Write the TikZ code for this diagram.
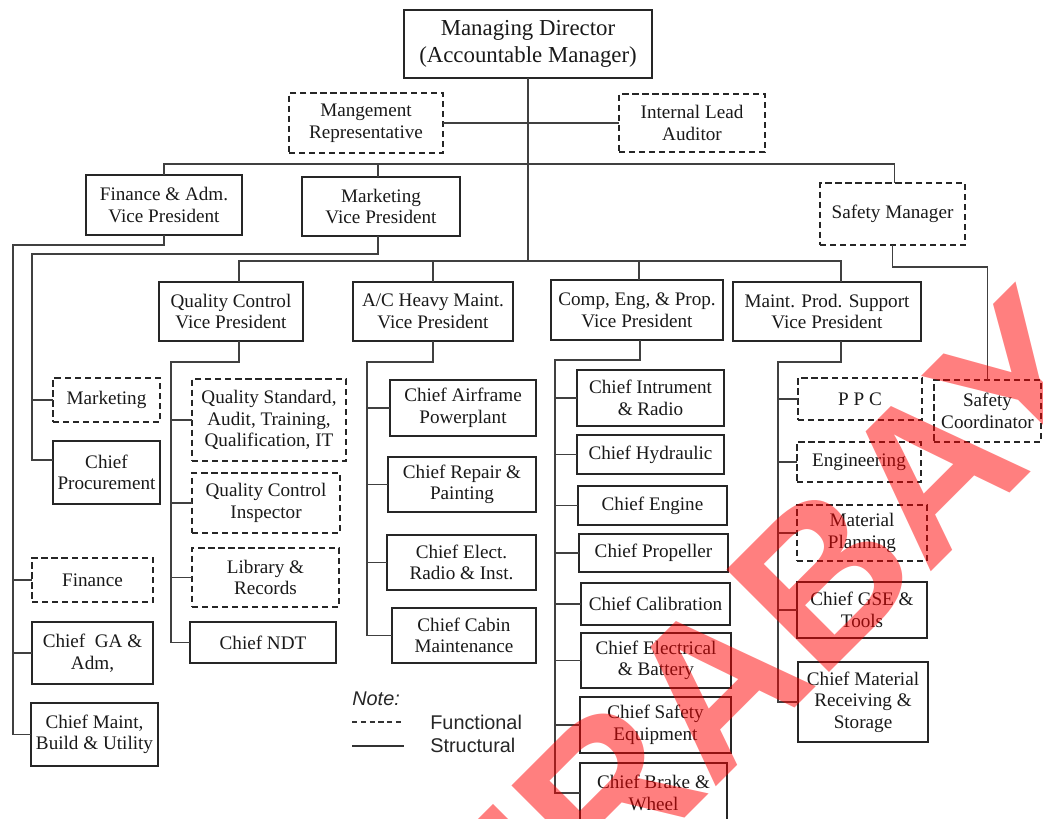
\documentclass[tikz,border=0pt]{standalone}
\usepackage{fontspec}
\setmainfont{Liberation Serif}
\newfontfamily\sansf{Liberation Sans}
\newcommand\pxu{0.02cm}
\newcommand\obox[7]{\node[#1, minimum width={(#5-#3)*0.02cm}, minimum height={(#6-#4)*0.02cm}] (#2) at ({(#3+#5)/2},{(#4+#6)/2}) {#7};}
\tikzset{
  box/.style={draw=black!85, line width=0.9pt, inner sep=1pt, outer sep=0pt, align=center,
    font=\fontsize{10.9}{12.3}\selectfont, text=black!90},
  sbox/.style={box},
  dbox/.style={box, dash pattern=on 3.5pt off 2.2pt},
  bigbox/.style={box, font=\fontsize{13}{15.4}\selectfont},
  conn/.style={draw=black!75, line width=0.9pt},
  legtext/.style={anchor=west, inner sep=0pt, text=black!85, font=\sansf\fontsize{11.3}{13}\selectfont},
}
\begin{document}
\begin{tikzpicture}[x=0.02cm, y=-0.02cm]
\useasboundingbox (0,0) rectangle (1043,818);
\begin{scope}
\clip (0,0) rectangle (1043,818);
% boxes
\obox{bigbox}{md}{404}{10}{652}{78}{Managing Director\\(Accountable Manager)}
\obox{dbox}{mr}{289}{93}{443}{153}{Mangement\\Representative}
\obox{dbox}{ila}{619}{94}{765}{152}{Internal Lead\\Auditor}
\obox{sbox}{fin}{86}{175}{242}{235}{Finance \& Adm.\\Vice President}
\obox{sbox}{mkt}{302}{177}{460}{236}{Marketing\\Vice President}
\obox{dbox}{sm}{820}{183}{965}{245}{Safety Manager}
\obox{sbox}{qc}{159}{282}{303}{341}{Quality Control\\Vice President}
\obox{sbox}{ac}{353}{282}{513}{341}{A/C Heavy Maint.\\Vice President}
\obox{sbox}{cep}{551}{280}{723}{340}{Comp, Eng, \& Prop.\\Vice President}
\obox{sbox}{mps}{733}{282}{921}{341}{Maint. Prod. Support\\Vice President}
\obox{dbox}{mktg}{53}{378}{160}{422}{Marketing}
\obox{sbox}{cp}{53}{441}{160}{504}{Chief\\Procurement}
\obox{dbox}{finx}{32}{558}{153}{602}{Finance}
\obox{sbox}{cga}{32}{622}{153}{684}{Chief~ GA \&\\Adm,}
\obox{sbox}{cmb}{31}{703}{158}{766}{Chief Maint,\\Build \& Utility}
\obox{dbox}{qs}{192}{379}{346}{461}{Quality Standard,\\Audit, Training,\\Qualification, IT}
\obox{dbox}{qci}{192}{473}{340}{533}{Quality Control\\Inspector}
\obox{dbox}{lib}{192}{548}{339}{607}{Library \&\\Records}
\obox{sbox}{ndt}{190}{622}{336}{663}{Chief NDT}
\obox{sbox}{caf}{390}{380}{536}{436}{Chief Airframe\\Powerplant}
\obox{sbox}{crp}{388}{457}{536}{512}{Chief Repair \&\\Painting}
\obox{sbox}{cel}{387}{535}{536}{590}{Chief Elect.\\Radio \& Inst.}
\obox{sbox}{ccm}{392}{608}{536}{663}{Chief Cabin\\Maintenance}
\obox{sbox}{cir}{577}{370}{724}{426}{Chief Intrument\\\& Radio}
\obox{sbox}{chy}{577}{435}{724}{474}{Chief Hydraulic}
\obox{sbox}{cen}{578}{486}{727}{525}{Chief Engine}
\obox{sbox}{cpr}{579}{534}{728}{572}{Chief Propeller}
\obox{sbox}{cca}{581}{583}{730}{625}{Chief Calibration}
\obox{sbox}{ceb}{581}{633}{731}{688}{Chief Electrical\\\& Battery}
\obox{sbox}{cse}{580}{697}{731}{753}{Chief Safety\\Equipment}
\obox{sbox}{cbw}{580}{763}{727}{823}{Chief Brake \&\\Wheel}
\obox{dbox}{ppc}{798}{378}{922}{420}{P P C}
\obox{dbox}{sc}{934}{380}{1041}{442}{Safety\\Coordinator}
\obox{dbox}{eng}{797}{442}{921}{482}{Engineering}
\obox{dbox}{mpl}{797}{505}{927}{561}{Material\\Planning}
\obox{sbox}{gse}{797}{582}{927}{638}{Chief GSE \&\\Tools}
\obox{sbox}{cmr}{798}{662}{928}{742}{Chief Material\\Receiving \&\\Storage}
% top connectors
\coordinate (j1) at (528,164);
\coordinate (j2) at (528,261);
\draw[conn] (md.south) -- (j2);
\draw[conn] (mr.east) -- (ila.west);
\coordinate (smT) at ([xshift=2*\pxu]sm.north);
\draw[conn] (fin.north) |- (j1) -| (smT);
\coordinate (mktT) at ([xshift=-3*\pxu]mkt.north);
\draw[conn] (mktT) -- (mktT |- j1);
\coordinate (qcT) at ([xshift=8*\pxu]qc.north);
\coordinate (mpsT) at ([xshift=14*\pxu]mps.north);
\draw[conn] (qcT) |- (j2) -| (mpsT);
\draw[conn] (ac.north) -- (ac.north |- j2);
\coordinate (cepT) at ([xshift=2*\pxu]cep.north);
\draw[conn] (cepT) -- (cepT |- j2);
% finance branch
\coordinate (t1) at (13,245);
\draw[conn] (fin.south) |- (t1) |- (cmb.west);
\draw[conn] (t1 |- finx.west) -- (finx.west);
\draw[conn] (t1 |- cga.west) -- (cga.west);
% marketing branch
\coordinate (mktB) at ([xshift=-3*\pxu]mkt.south);
\coordinate (t2) at (32,254);
\coordinate (cpW) at ([yshift=12.5*\pxu]cp.west);
\draw[conn] (mktB) |- (t2) |- (cpW);
\draw[conn] (t2 |- mktg.west) -- (mktg.west);
% QC branch
\coordinate (qcB) at ([xshift=8*\pxu]qc.south);
\coordinate (t3) at (171,362);
\draw[conn] (qcB) |- (t3) |- (ndt.west);
\foreach \n in {qs,qci,lib} \draw[conn] (t3 |- \n.west) -- (\n.west);
% A/C branch
\coordinate (t4) at (367,362);
\draw[conn] (ac.south) |- (t4) |- (ccm.west);
\foreach \n in {caf,crp,cel} \draw[conn] (t4 |- \n.west) -- (\n.west);
% Comp branch
\coordinate (cepB) at ([xshift=3*\pxu]cep.south);
\coordinate (t5) at (555,360);
\draw[conn] (cepB) |- (t5) |- (cbw.west);
\foreach \n in {cir,chy,cen,cpr,cca,ceb,cse} \draw[conn] (t5 |- \n.west) -- (\n.west);
% MPS branch
\coordinate (mpsB) at ([xshift=14*\pxu]mps.south);
\coordinate (t6) at (778,362);
\draw[conn] (mpsB) |- (t6) |- (cmr.west);
\foreach \n in {ppc,eng,mpl,gse} \draw[conn] (t6 |- \n.west) -- (\n.west);
% safety
\path (sm.south) ++(0,22) coordinate (t7);
\draw[conn] (sm.south) -- (t7) -| (sc.north);
% legend
\node[legtext, font=\sansf\itshape\fontsize{11.3}{13}\selectfont] (note) at (352,699) {Note:};
\coordinate (l1a) at (352,722); \coordinate (l1b) at (404,722);
\coordinate (l2a) at (352,746); \coordinate (l2b) at (404,746);
\draw[black!80, line width=0.7pt, dash pattern=on 3pt off 2pt] (l1a) -- (l1b);
\draw[black!80, line width=0.8pt] (l2a) -- (l2b);
\node[legtext] (fn) at (430,722) {Functional};
\node[legtext] (st) at (430,745) {Structural};
% watermark
\node[rotate=45, text=red, text opacity=0.5, inner sep=0pt, font=\sansf\bfseries\fontsize{120}{120}\selectfont] (wm) at (755,645) {SURABAYA};
\end{scope}
\end{tikzpicture}
\end{document}
